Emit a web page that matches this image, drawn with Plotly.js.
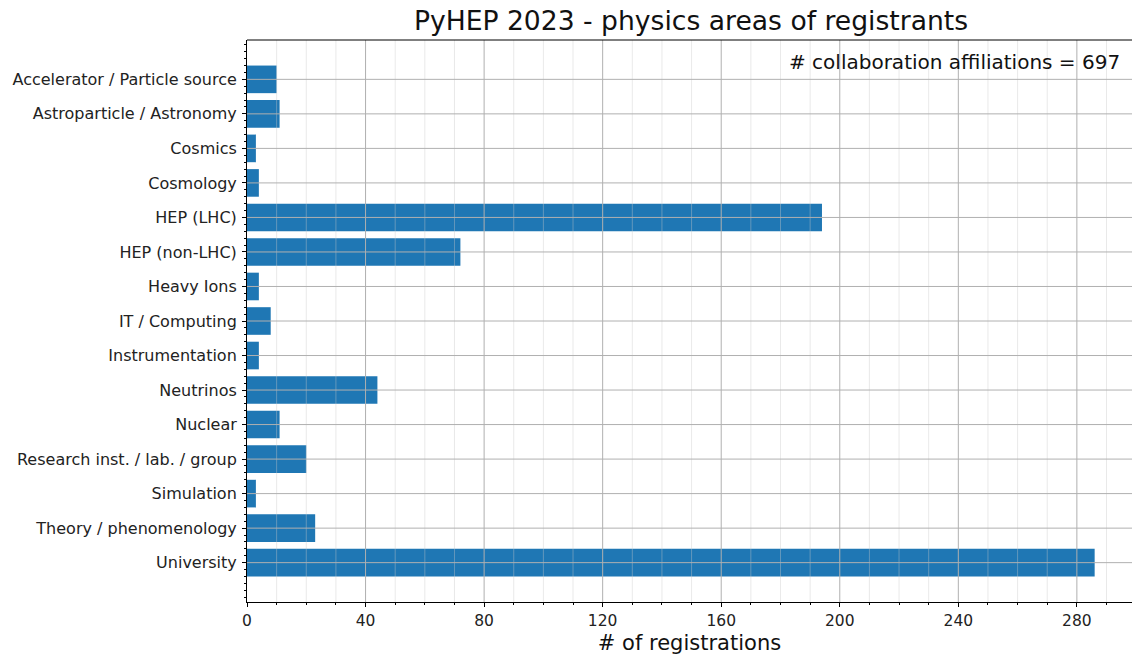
<!DOCTYPE html>
<html>
<head>
<meta charset="utf-8">
<script src="https://cdn.plot.ly/plotly-3.0.1.min.js"></script>
<style>html,body{margin:0;padding:0;background:#fff;}#chart{width:1132px;height:655px;}</style>
</head>
<body>
<div id="chart"></div>
<script>
const categories = [
  "Accelerator / Particle source",
  "Astroparticle / Astronomy",
  "Cosmics",
  "Cosmology",
  "HEP (LHC)",
  "HEP (non-LHC)",
  "Heavy Ions",
  "IT / Computing",
  "Instrumentation",
  "Neutrinos",
  "Nuclear",
  "Research inst. / lab. / group",
  "Simulation",
  "Theory / phenomenology",
  "University"
];
const registrations = [10, 11, 3, 4, 194, 72, 4, 8, 4, 44, 11, 20, 3, 23, 286];
const xTickVals = [0, 40, 80, 120, 160, 200, 240, 280];
const titleText = "PyHEP 2023 - physics areas of registrants";
const xTitleText = "# of registrations";
const noteText = "# collaboration affiliations = 697";

const positions = categories.map((c, i) => i);
const xMax = 298.6;
const font = "DejaVu Sans, sans-serif";

const shapes = [];
for (let v = 10; v <= xMax; v += 10) {
  const major = v % 40 === 0;
  shapes.push({type: "line", xref: "x", yref: "paper", x0: v, x1: v, y0: 0, y1: 1,
    layer: "above", line: {color: major ? "#b0b0b0" : "rgba(200,200,200,0.4)", width: 1}});
}
positions.forEach(p => {
  shapes.push({type: "line", xref: "paper", yref: "y", x0: 0, x1: 1, y0: p, y1: p,
    layer: "above", line: {color: "#b0b0b0", width: 1}});
});
shapes.push({type: "line", xref: "paper", yref: "paper", x0: 0, x1: 1, y0: 1, y1: 1, layer: "above", line: {color: "#000", width: 1}});

const trace = {
  type: "bar",
  orientation: "h",
  x: registrations,
  y: positions,
  width: 0.8,
  marker: {color: "#1f77b4", line: {width: 0}},
  hoverinfo: "x+y"
};

const layout = {
  width: 1132, height: 655,
  margin: {l: 247, r: 0, t: 40, b: 53},
  paper_bgcolor: "#fff", plot_bgcolor: "#fff",
  showlegend: false,
  font: {family: font, color: "#1a1a1a"},
  title: {text: titleText, font: {family: font, size: 26.6, color: "#111"},
    x: 691 / 1132, xanchor: "center", xref: "container", y: 1 - 21 / 655, yanchor: "middle", yref: "container"},
  xaxis: {
    range: [0, xMax], showgrid: false, zeroline: false,
    tickmode: "array", tickvals: xTickVals, ticktext: xTickVals.map(String),
    ticks: "outside", ticklen: 4, tickwidth: 1, tickcolor: "#000",
    tickfont: {family: font, size: 15.5, color: "#222"},
    showline: true, linecolor: "#000", linewidth: 1,
    minor: {dtick: 10, tick0: 0, ticks: "outside", ticklen: 2, tickwidth: 1, tickcolor: "#000", showgrid: false},
    title: {text: xTitleText, font: {family: font, size: 21, color: "#111"}, standoff: 6}
  },
  yaxis: {
    range: [15.14, -1.14], showgrid: false, zeroline: false,
    tickmode: "array", tickvals: positions, ticktext: categories,
    ticks: "outside", ticklen: 4, tickwidth: 1, tickcolor: "#000",
    ticklabelstandoff: 2,
    tickfont: {family: font, size: 16, color: "#222"},
    showline: true, linecolor: "#000", linewidth: 1,
    minor: {dtick: 0.2, tick0: 0, ticks: "outside", ticklen: 2, tickwidth: 1, tickcolor: "#000", showgrid: false}
  },
  shapes: shapes,
  annotations: [{
    text: noteText, xref: "paper", yref: "paper", x: (1122 - 247) / (1132 - 247), y: 1 - 22 / 562,
    xanchor: "right", yanchor: "middle", showarrow: false,
    font: {family: font, size: 20, color: "#111"}
  }]
};

Plotly.newPlot("chart", [trace], layout, {displayModeBar: false, staticPlot: true});
</script>
</body>
</html>
